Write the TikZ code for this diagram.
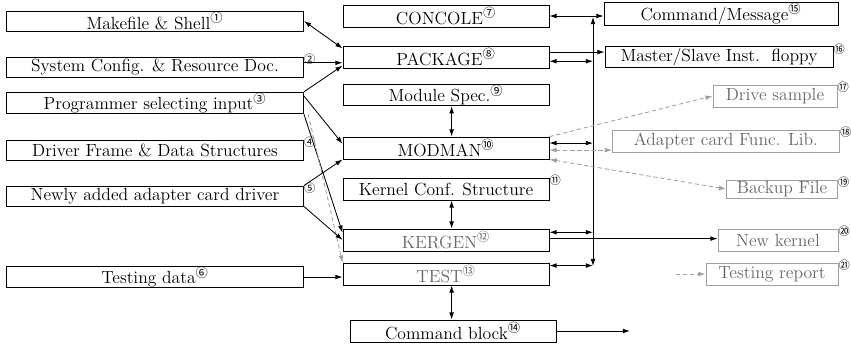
\documentclass[tikz,border=0pt]{standalone}
\usepackage{fontspec}
\newfontfamily\cjk{Noto Sans CJK SC}
\usetikzlibrary{arrows.meta, positioning, calc}
\newcommand{\cn}[1]{\textsuperscript{\cjk #1}}
\tikzset{
  blk/.style={
    rectangle, draw=black, line width=0.6pt,
    minimum height=0.5cm, inner sep=0.5pt,
    text centered, font=\fontsize{12.5}{14}\selectfont},
  lbox/.style={blk, minimum width=7.425cm},
  mbox/.style={blk, minimum width=5.15cm, minimum height=0.55cm},
  rbox/.style={blk},
  obox/.style={blk, draw=gray!75, text=gray!80!black},
  tag/.style={font=\cjk\footnotesize, inner sep=0pt, anchor=west, yshift=-2pt},
  arr/.style={-{Latex[length=1.8mm,width=1.2mm]}, line width=0.6pt},
  darr/.style={{Latex[length=1.8mm,width=1.2mm]}-{Latex[length=1.8mm,width=1.2mm]}, line width=0.6pt},
  faint/.style={draw=gray!75, densely dashed},
}
\begin{document}
\begin{tikzpicture}[x=0.025cm, y=-0.025cm]
  \useasboundingbox (0,0) rectangle (851,345);

  % input column
  \node[lbox] (make)  at (155,21)  {Makefile \& Shell\cn{①}};
  \node[lbox, label={[tag]north east:②}] (sys) at (155,67)
    {System Config. \& Resource Doc.};
  \node[lbox] (prog)  at (155,103) {Programmer selecting input\cn{③}};
  \node[lbox, label={[tag]north east:④}] (frame) at (155,150)
    {Driver Frame \& Data Structures};
  \node[lbox, label={[tag]north east:⑤}] (newly) at (155,196)
    {Newly added adapter card driver};
  \node[lbox] (tdata) at (155,277) {Testing data\cn{⑥}};

  % tool column
  \node[mbox] (con)    at (446,16)  {CONCOLE\cn{⑦}};
  \node[mbox] (pkg)    at (446,57)  {PACKAGE\cn{⑧}};
  \node[mbox, minimum height=0.45cm] (spec) at (446,95) {Module Spec.\cn{⑨}};
  \node[mbox] (modman) at (446,148) {MODMAN\cn{⑩}};
  \node[mbox, label={[tag]north east:⑪}] (kconf) at (446,189)
    {Kernel Conf. Structure};
  \node[mbox, text=gray!80!black] (kergen) at (446,240) {KERGEN\cn{⑫}};
  \node[mbox, text=gray!80!black] (test)   at (446,274) {TEST\cn{⑬}};
  \node[mbox] (cmd)    at (453,331) {Command block\cn{⑭}};

  % output column
  \node[rbox, minimum width=5.85cm, minimum height=0.45cm] (msg) at (721,14)
    {Command/Message\cn{⑮}};
  \node[rbox, minimum width=5.7cm, minimum height=0.52cm,
    label={[tag]north east:⑯}] (floppy) at (719,57) {Master/Slave Inst.\ \ floppy};
  \node[obox, minimum width=3.1cm, minimum height=0.55cm,
    label={[tag]north east:⑰}] (drv) at (775,96) {Drive sample};
  \node[obox, minimum width=5.675cm, minimum height=0.55cm,
    label={[tag]north east:⑱}] (lib) at (726,141) {Adapter card Func. Lib.};
  \node[obox, minimum width=2.775cm, minimum height=0.45cm,
    label={[tag]north east:⑲}] (bak) at (782,189) {Backup File};
  \node[obox, minimum width=3.0cm, minimum height=0.55cm,
    label={[tag]north east:⑳}] (newk) at (778,240) {New kernel};
  \node[obox, minimum width=3.3cm, minimum height=0.55cm,
    label={[tag]north east:㉑}] (trep) at (772,274) {Testing report};

  \coordinate (bustop) at (593,17);
  \coordinate (busbot) at (593,266);
  \coordinate (trepin) at (676,274);
  \coordinate (cmdout) at (630,331);

  % inputs to tools
  \draw[darr] (make.east) -- ([yshift=-2pt]pkg.north west);
  \draw[arr] ([yshift=3pt]sys.east) -- ([yshift=3pt]sys.east -| pkg.west);
  \draw[arr] (prog.north east) -- ([yshift=2pt]pkg.south west);
  \draw[arr] ([yshift=-3pt]prog.north east) -- ([yshift=3pt]modman.west);
  \draw[arr] (prog.south east) -- ([yshift=-3pt]kergen.north west);
  \draw[arr, faint] ([xshift=3pt]prog.south east) -- (test.north west);
  \draw[arr] (newly.north east) -- (modman.south west);
  \draw[arr] (newly.south east) -- (kergen.west);
  \draw[arr] (tdata.east) -- (tdata.east -| test.west);

  % tool column links
  \draw[darr] ([xshift=4pt]spec.south) -- ([xshift=4pt]spec.south |- modman.north);
  \draw[darr] ([xshift=4pt]kconf.south) -- ([xshift=4pt]kconf.south |- kergen.north);
  \draw[darr] ([xshift=4pt]test.south) -- ([xshift=4pt]test.south |- cmd.north);

  % bus and outputs
  \draw[darr] (busbot) -- (bustop);
  \draw[darr] (con.east) -- (con.east -| msg.west);
  \draw[arr] ([yshift=3.5pt]pkg.east) -- ([yshift=3.5pt]pkg.east -| floppy.west);
  \draw[darr] ([yshift=-3pt]pkg.east) -- ([yshift=-3pt]pkg.east -| busbot);
  \draw[darr] ([yshift=3.5pt]modman.east) -- ([yshift=3.5pt]modman.east -| busbot);
  \draw[darr, faint] ([yshift=-1.5pt]modman.east) -- ([yshift=-1.5pt]modman.east -| lib.west);
  \draw[arr, faint] (modman.north east) -- (drv.west);
  \draw[darr, faint] (modman.south east) -- (bak.west);
  \draw[darr] ([yshift=5.5pt]kergen.east) -- ([yshift=5.5pt]kergen.east -| busbot);
  \draw[arr] ([yshift=1pt]kergen.east) -- ([yshift=1pt]kergen.east -| newk.west);
  \draw[darr] ([yshift=6pt]test.east) -- ([yshift=6pt]test.east -| busbot);
  \draw[arr, faint] (trepin) -- (trep.west);
  \draw[arr] (cmd.east) -- (cmdout);

\end{tikzpicture}
\end{document}
